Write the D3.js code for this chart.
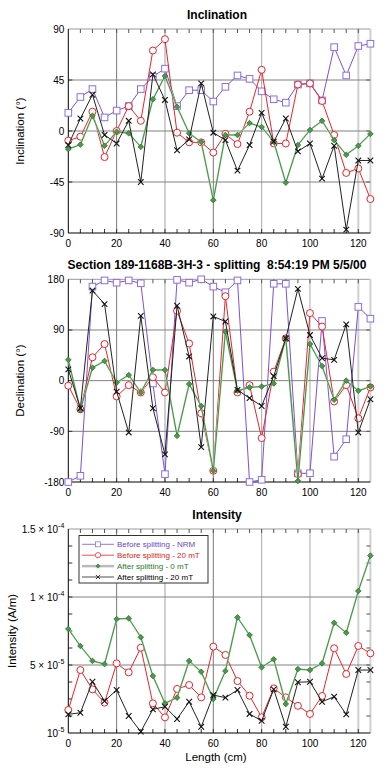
<!DOCTYPE html>
<html><head><meta charset="utf-8">
<script src="https://cdn.jsdelivr.net/npm/d3@7"></script>
<style>
body{margin:0;background:#fff;}
svg{display:block;font-family:"Liberation Sans",Arial,Helvetica,sans-serif;}
</style></head>
<body><svg id="c" width="388" height="773"></svg>
<script>
const lengthCm = [0,5,10,15,20,25,30,35,40,45,50,55,60,65,70,75,80,85,90,95,100,105,110,115,120,125];

const incNRM    = [16,30,37,12,18,22,37,48,55,22,36,36,26,39,49,46,35,28,25,41,42,27,74,49,75,77];
const inc20     = [-8.5,-5,17,-23,0,22,9,71,81,-1.5,-10,-10,-19,-2.5,-11.5,17,54,-11,-11,41,42,26.5,-3.5,-37,-33,-60];
const incAfter0 = [-16,-12,13.5,-13,-0.6,-2,-14,28,48.5,21.4,-2,-9.7,-61,-3.5,-3.5,7,3.5,-9.4,-45.6,-12.4,0.9,9,-8,-21,-13,-2.6];
const incAfter20= [-12.4,11,32,-3.5,-11,9,-45,50,27.4,-17,-7.4,42,-1.5,-8,-35,-12.4,16,-9.4,11,-18,-11,-42,-13,-87,-26,-26];

const decNRM    = [-180,-169,167,178,174,178,173,-5,-166,179,174,180,167,157,178,-180,-176,172,172,-164.5,-164.5,106,-135,-104,131,110];
const dec20     = [-9,-51,41.5,65,-28,-8,-21,6,-21,124,66,-58,-160,150,-21,-8,-102,16,75,-166,120,96,-37,-8,-67,-12];
const decAfter0 = [37,-52,23,35,-3.5,10,-21,19,19,-98,-6,-45,-160,87,-18,-12,-10.5,-5,75,-178,65,26,-34,0,-18,-10.5];
const decAfter20= [20,-49,160,136,-19.5,-92,115,-49,-131,133,43,-118,114,105,-16.5,-31,-45,8,75,163,81,40,37,100,-92,-33];

const int20     = [1.69e-5,4.63e-5,3.21e-5,2.23e-5,5.12e-5,4.46e-5,6.27e-5,2.18e-5,1.15e-5,3.24e-5,3.53e-5,2.62e-5,6.35e-5,5.74e-5,3.82e-5,2.74e-5,1.15e-5,3.28e-5,2.62e-5,2.0e-5,1.4e-5,2.72e-5,6.23e-5,4.34e-5,6.4e-5,5.86e-5];
const intAfter0 = [7.65e-5,6.4e-5,5.3e-5,5.07e-5,8.38e-5,8.43e-5,7.04e-5,4.19e-5,2.18e-5,2.6e-5,5.3e-5,4.5e-5,2.5e-5,4.56e-5,8.5e-5,7.2e-5,4.83e-5,5.42e-5,2.13e-5,4.7e-5,4.63e-5,5.12e-5,8.1e-5,7.37e-5,10.44e-5,13.04e-5];
const intAfter20= [1.37e-5,1.49e-5,3.77e-5,2.35e-5,3.16e-5,1.25e-5,0.1e-5,1.74e-5,1.93e-5,1.03e-5,2.3e-5,0.46e-5,2.79e-5,2.6e-5,3.16e-5,1.4e-5,0.9e-5,3.21e-5,0.46e-5,3.73e-5,3.77e-5,2.3e-5,2.67e-5,1.37e-5,4.63e-5,4.63e-5];

const xTicks = [0,20,40,60,80,100,120];
const incTicks = [-90,-45,0,45,90];
const decTicks = [-180,-90,0,90,180];
const intTicks = [0,5e-5,1e-4,1.5e-4];
const intTickLabels = [["","10","-5"],["5 \u00d7 ","10","-5"],["1 \u00d7 ","10","-4"],["1.5 \u00d7 ","10","-4"]];

const seriesNames = ["Before splitting - NRM","Before splitting - 20 mT","After splitting - 0 mT","After splitting - 20 mT"];

const svg = d3.select("#c");
const X0 = 68.3, X1 = 370.4;
const x = d3.scaleLinear().domain([0,125]).range([X0,X1]);

const styles = [
  {line:"#7b52d6", stroke:"#8c6ee0", fill:"#fff", marker:"square", text:"#6a3fd0"},
  {line:"#e8242a", stroke:"#e8242a", fill:"#fff", marker:"circle", text:"#e01a1a"},
  {line:"#3f8f3f", stroke:"#2f6f2f", fill:"#4a9a4a", marker:"diamond", text:"#1f7a1f"},
  {line:"#222", stroke:"#111", fill:"none", marker:"x", text:"#000"}
];

function drawMarker(g, type, cx, cy, st){
  if(type==="square"){
    g.append("rect").attr("x",cx-3.3).attr("y",cy-3.3).attr("width",6.6).attr("height",6.6)
      .attr("fill",st.fill).attr("stroke",st.stroke).attr("stroke-width",1);
  } else if(type==="circle"){
    g.append("circle").attr("cx",cx).attr("cy",cy).attr("r",3.5)
      .attr("fill",st.fill).attr("stroke",st.stroke).attr("stroke-width",1);
  } else if(type==="diamond"){
    g.append("path").attr("d",`M${cx},${cy-2.8}L${cx+2.8},${cy}L${cx},${cy+2.8}L${cx-2.8},${cy}Z`)
      .attr("fill",st.fill).attr("stroke",st.stroke).attr("stroke-width",0.8);
  } else {
    g.append("path").attr("d",`M${cx-2.8},${cy-2.8}L${cx+2.8},${cy+2.8}M${cx-2.8},${cy+2.8}L${cx+2.8},${cy-2.8}`)
      .attr("stroke",st.stroke).attr("stroke-width",1.1).attr("fill","none");
  }
}

function panel(opt){
  const {top,bottom,y,title,titleY,yLabel,yLabelX,series,hGrid,yTicks,yLabels,minor} = opt;
  const g = svg.append("g");
  const vStyle = {20:["#777",1],40:["#cfcfcf",2],60:["#777",1],80:["#aaa",1],100:["#aaa",1],120:["#cfcfcf",2]};
  xTicks.filter(v=>v>0).forEach(v=>{
    g.append("line").attr("x1",x(v)).attr("x2",x(v)).attr("y1",top).attr("y2",bottom)
      .attr("stroke",vStyle[v][0]).attr("stroke-width",vStyle[v][1]);
  });
  hGrid.forEach(v=>{
    g.append("line").attr("x1",X0).attr("x2",X1).attr("y1",y(v)).attr("y2",y(v))
      .attr("stroke","#808080").attr("stroke-width",1);
  });
  g.append("line").attr("x1",X0).attr("x2",X1).attr("y1",top).attr("y2",top).attr("stroke","#999");
  g.append("line").attr("x1",X1).attr("x2",X1).attr("y1",top).attr("y2",bottom).attr("stroke","#cfcfcf").attr("stroke-width",2);
  lengthCm.forEach(v=>{
    if(v===0||v===125) return;
    g.append("line").attr("x1",x(v)).attr("x2",x(v)).attr("y1",top).attr("y2",top+4).attr("stroke","#555");
    g.append("line").attr("x1",x(v)).attr("x2",x(v)).attr("y1",bottom).attr("y2",bottom-4).attr("stroke","#333");
  });
  minor.forEach(v=>{
    g.append("line").attr("x1",X0).attr("x2",X0+4).attr("y1",y(v)).attr("y2",y(v)).attr("stroke","#333");
    g.append("line").attr("x1",X1-4).attr("x2",X1).attr("y1",y(v)).attr("y2",y(v)).attr("stroke","#555");
  });
  g.append("line").attr("x1",X0).attr("x2",X0).attr("y1",top).attr("y2",bottom).attr("stroke","#000");
  g.append("line").attr("x1",X0).attr("x2",X1).attr("y1",bottom).attr("y2",bottom).attr("stroke","#000");

  xTicks.forEach(v=>{
    g.append("text").attr("x",x(v)).attr("y",bottom+14).attr("text-anchor","middle")
      .attr("font-size",10).attr("fill","#000").text(v);
  });
  yTicks.forEach((v,i)=>{
    const t = g.append("text").attr("x",X0-4).attr("y",y(v)+3.5).attr("text-anchor","end")
      .attr("font-size",10).attr("fill","#000");
    const lab = yLabels[i];
    if(Array.isArray(lab)){
      t.append("tspan").text(lab[0]+lab[1]);
      t.append("tspan").attr("dy",-5).attr("font-size",7).text(lab[2]);
    } else t.text(lab);
  });
  svg.append("text").attr("x",217).attr("y",titleY).attr("text-anchor","middle")
    .attr("font-size",12).attr("font-weight","bold").text(title);
  svg.append("text").attr("transform",`translate(${yLabelX},${(top+bottom)/2}) rotate(-90)`)
    .attr("text-anchor","middle").attr("font-size",11.5).text(yLabel);

  const line = d3.line().x((d,i)=>x(lengthCm[i])).y(d=>y(d));
  series.forEach(s=>{
    const st = styles[s.k];
    const sg = g.append("g");
    if(s.k===2){
      sg.append("path").attr("d",line(s.data)).attr("fill","none").attr("stroke","#bcdcbc").attr("stroke-width",1.8);
    }
    sg.append("path").attr("d",line(s.data)).attr("fill","none").attr("stroke",st.line).attr("stroke-width",1);
    s.data.forEach((d,i)=>drawMarker(sg, st.marker, x(lengthCm[i]), y(d), st));
  });
}

const yInc = d3.scaleLinear().domain([-90,90]).range([233,29]);
panel({top:29,bottom:233,y:yInc,title:"Inclination",titleY:19,yLabel:"Inclination (\u00b0)",yLabelX:24,
  series:[{k:0,data:incNRM},{k:1,data:inc20},{k:2,data:incAfter0},{k:3,data:incAfter20}],
  hGrid:[-45,0,45],yTicks:incTicks,yLabels:incTicks.map(String),minor:[-45,0,45]});

const yDec = d3.scaleLinear().domain([-180,180]).range([482,279.3]);
panel({top:279.3,bottom:482,y:yDec,title:"Section 189-1168B-3H-3 - splitting\u00a0\u00a08:54:19 PM 5/5/00",titleY:269,
  yLabel:"Declination (\u00b0)",yLabelX:24,
  series:[{k:0,data:decNRM},{k:1,data:dec20},{k:2,data:decAfter0},{k:3,data:decAfter20}],
  hGrid:[-90,0,90],yTicks:decTicks,yLabels:decTicks.map(String),minor:[-90,0,90]});

const yInt = d3.scaleLinear().domain([0,1.5e-4]).range([733,529]);
panel({top:529,bottom:733,y:yInt,title:"Intensity",titleY:519,yLabel:"Intensity (A/m)",yLabelX:16,
  series:[{k:1,data:int20},{k:2,data:intAfter0},{k:3,data:intAfter20}],
  hGrid:[5e-5,1e-4],yTicks:intTicks,yLabels:intTickLabels,
  minor:d3.range(1,12).map(i=>i*1.25e-5)});

svg.append("text").attr("x",216).attr("y",761).attr("text-anchor","middle").attr("font-size",11.5).text("Length (cm)");

const lg = svg.append("g");
lg.append("rect").attr("x",79).attr("y",535.5).attr("width",129).attr("height",47.5)
  .attr("fill","#fff").attr("stroke","#333").attr("stroke-width",1);
seriesNames.forEach((n,i)=>{
  const yy = 544.3 + i*10.9;
  const st = styles[i];
  if(i===2) lg.append("line").attr("x1",82).attr("x2",114).attr("y1",yy).attr("y2",yy).attr("stroke","#bbb").attr("stroke-width",2.5);
  else lg.append("line").attr("x1",82).attr("x2",114).attr("y1",yy).attr("y2",yy).attr("stroke",st.line).attr("stroke-width",0.8);
  const mg = lg.append("g").attr("transform",`translate(98,${yy}) scale(0.75) translate(-98,${-yy})`);
  drawMarker(mg, st.marker, 98, yy, st);
  lg.append("text").attr("x",117).attr("y",yy+3).attr("font-size",8).attr("fill",st.text).text(n);
});
</script></body></html>
